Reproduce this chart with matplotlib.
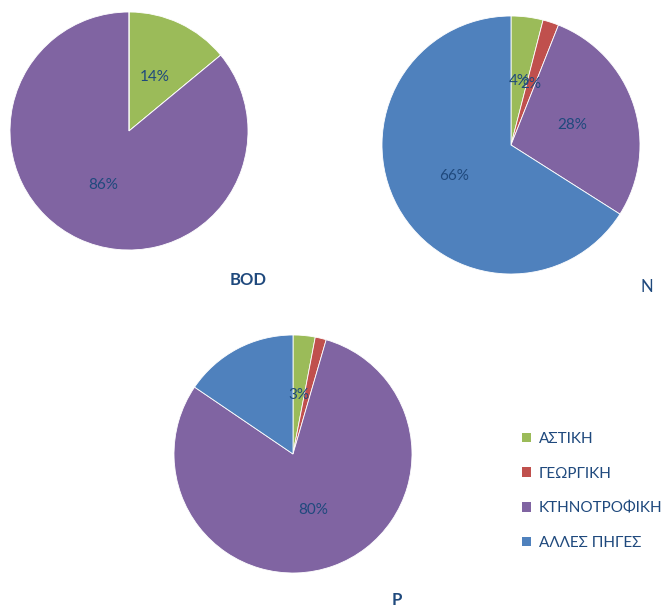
import numpy as np
import matplotlib.pyplot as plt
from matplotlib.patches import Patch

plt.rcParams['font.family'] = ['Lato', 'Noto Sans', 'DejaVu Sans']

sources = ['ΑΣΤΙΚΗ', 'ΓΕΩΡΓΙΚΗ', 'ΚΤΗΝΟΤΡΟΦΙΚΗ', 'ΑΛΛΕΣ ΠΗΓΕΣ']
colors = ['#9BBB59', '#C0504D', '#8064A2', '#4F81BD']

bod = [14, 0, 86, 0]
nitrogen = [4, 2, 28, 66]
phosphorus = [3, 1.5, 80, 15.5]

bod_labels = ['14%', '', '86%', '']
n_labels = ['4%', '2%', '28%', '66%']
p_labels = ['3%', '', '80%', '']

text_col = '#1F497D'
W, H = 663, 607
fig = plt.figure(figsize=(W / 100, H / 100), dpi=100)


def pie_at(cx, cy, r, values, labels):
    ax = fig.add_axes([(cx - r) / W, (H - cy - r) / H, 2 * r / W, 2 * r / H])
    wedges, _ = ax.pie(values, colors=colors, startangle=90, counterclock=False,
                       wedgeprops=dict(edgecolor='white', linewidth=0.6))
    for w, lab in zip(wedges, labels):
        if lab:
            ang = np.deg2rad((w.theta1 + w.theta2) / 2)
            ax.text(0.5 * np.cos(ang), 0.5 * np.sin(ang), lab, ha='center', va='center',
                    color=text_col, fontsize=11)
    ax.set_xlim(-1, 1)
    ax.set_ylim(-1, 1)
    ax.set_aspect('equal')
    ax.axis('off')
    return wedges


pie_at(129, 131, 119, bod, bod_labels)
pie_at(511, 145, 129, nitrogen, n_labels)
pie_at(293, 454, 119, phosphorus, p_labels)

fig.text(248 / W, 1 - 280 / H, 'BOD', ha='center', va='center', color=text_col,
         fontsize=12, fontweight='bold')
fig.text(647 / W, 1 - 287 / H, 'N', ha='center', va='center', color=text_col, fontsize=12)
fig.text(397 / W, 1 - 600 / H, 'P', ha='center', va='center', color=text_col,
         fontsize=12, fontweight='bold')

handles = [Patch(facecolor=c, edgecolor='none') for c in colors]
leg = fig.legend(handles, sources, loc='upper left', bbox_to_anchor=(522 / W, 1 - 432 / H),
                 frameon=False, fontsize=11, handlelength=0.6, handleheight=0.6,
                 handletextpad=0.5, labelspacing=1.35, borderpad=0, borderaxespad=0)
for t in leg.get_texts():
    t.set_color(text_col)

fig.savefig('out.png', dpi=100)
